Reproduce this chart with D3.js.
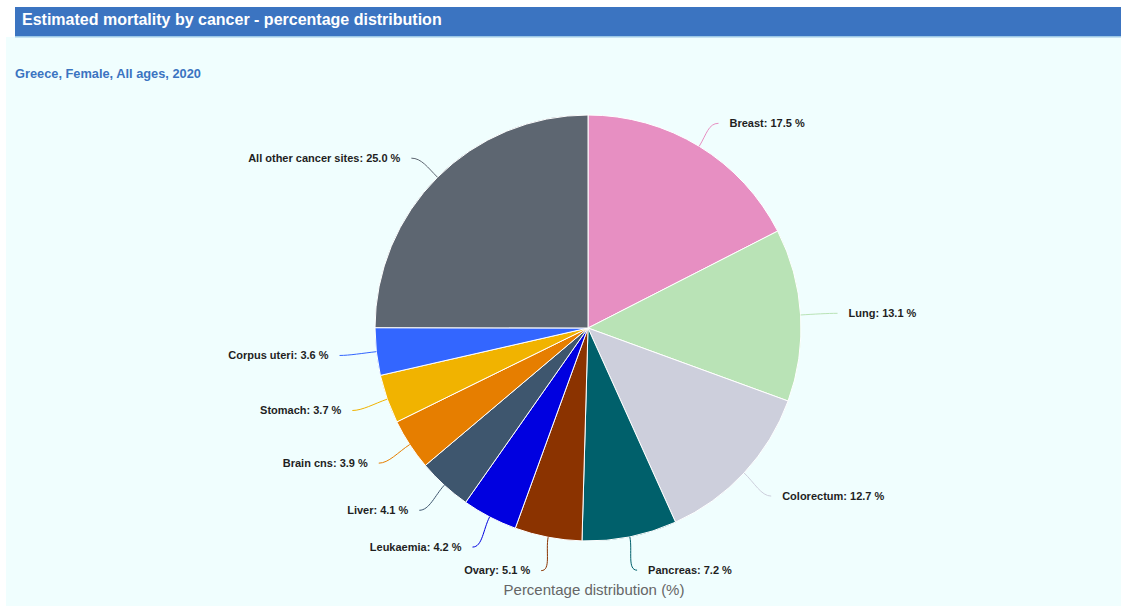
<!DOCTYPE html>
<html>
<head>
<meta charset="utf-8">
<script src="https://cdn.jsdelivr.net/npm/d3@7"></script>
<style>
  html, body { margin: 0; padding: 0; background: #ffffff; }
  svg { display: block; font-family: "Liberation Sans", Arial, sans-serif; }
</style>
</head>
<body>
<svg id="chart" width="1121" height="607"></svg>
<script>
// Cancer sites, in drawing order (clockwise from 12 o'clock)
const sites = ["Breast", "Lung", "Colorectum", "Pancreas", "Ovary", "Leukaemia",
               "Liver", "Brain cns", "Stomach", "Corpus uteri", "All other cancer sites"];
// Share of estimated deaths, %
const shares = [17.5, 13.1, 12.7, 7.2, 5.1, 4.2, 4.1, 3.9, 3.7, 3.6, 25.0];
// Slice colours per site
const siteColors = ["#e78fc2", "#b9e3b6", "#cdcfdc", "#00606b", "#8b3300", "#0000e0",
                    "#3e566e", "#e67e00", "#f1b300", "#3366ff", "#5d6671"];

const titleText = "Estimated mortality by cancer - percentage distribution";
const subtitleText = "Greece, Female, All ages, 2020";
const axisTitle = "Percentage distribution (%)";

const svg = d3.select("#chart");
const W = 1121, H = 607;

// Panel background and header bar
svg.append("rect").attr("x", 6).attr("y", 37).attr("width", W - 6).attr("height", H - 38)
  .attr("fill", "#f0fefe");
svg.append("rect").attr("x", 15).attr("y", 7).attr("width", W - 15).attr("height", 30)
  .attr("fill", "#3b74c1");
svg.append("rect").attr("x", 15).attr("y", 36).attr("width", W - 15).attr("height", 1.5)
  .attr("fill", "#9cc8e6");

svg.append("text").attr("x", 22).attr("y", 25)
  .attr("fill", "#ffffff").attr("font-size", 16).attr("font-weight", "bold")
  .text(titleText);

svg.append("text").attr("x", 15).attr("y", 78)
  .attr("fill", "#3b74c1").attr("font-size", 12.8).attr("font-weight", "bold")
  .text(subtitleText);

svg.append("text").attr("x", 594).attr("y", 595)
  .attr("text-anchor", "middle")
  .attr("fill", "#666666").attr("font-size", 15)
  .text(axisTitle);

// Pie
const cx = 588, cy = 328, r = 213;
const data = sites.map((s, i) => ({ site: s, value: shares[i], color: siteColors[i] }));

const pie = d3.pie().value(d => d.value).sort(null);
const arcs = pie(data);
const arc = d3.arc().innerRadius(0).outerRadius(r);

const g = svg.append("g").attr("transform", `translate(${cx},${cy})`);

g.selectAll("path.slice")
  .data(arcs)
  .join("path")
  .attr("class", "slice")
  .attr("d", arc)
  .attr("fill", d => d.data.color)
  .attr("stroke", "#ffffff")
  .attr("stroke-width", 1)
  .attr("stroke-linejoin", "round");

// Data labels with curved connectors
const labelR = 250, labelRy = 240, pad = 11;
arcs.forEach(d => {
  const a = (d.startAngle + d.endAngle) / 2;
  const s = Math.sin(a), c = Math.cos(a);
  const side = s >= 0 ? 1 : -1;
  const ex = r * s, ey = -r * c;
  const ly = -labelRy * c + (c < 0 ? -7 * c : 0);
  const lx = labelR * s;
  const c1x = (r + 14) * s, c1y = -(r + 14) * c;
  const c2x = lx - side * 10, c2y = ly;
  g.append("path")
    .attr("d", `M${ex},${ey} C${c1x},${c1y} ${c2x},${c2y} ${lx},${ly}`)
    .attr("fill", "none")
    .attr("stroke", d.data.color)
    .attr("stroke-width", 1);
  g.append("text")
    .attr("x", lx + side * pad)
    .attr("y", ly)
    .attr("dy", "0.35em")
    .attr("text-anchor", side > 0 ? "start" : "end")
    .attr("font-size", 11)
    .attr("font-weight", "bold")
    .attr("fill", "#1f1f1f")
    .text(`${d.data.site}: ${d.data.value.toFixed(1)} %`);
});
</script>
</body>
</html>
